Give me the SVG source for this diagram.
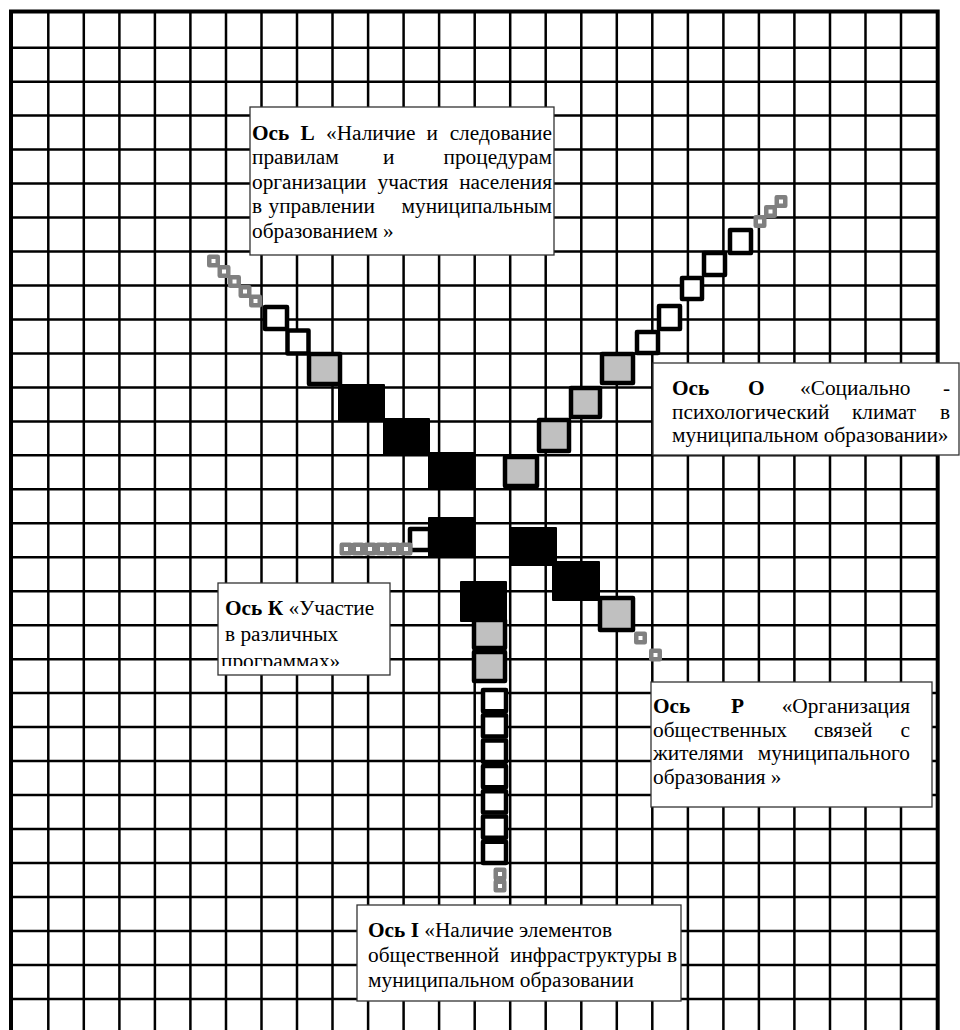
<svg xmlns="http://www.w3.org/2000/svg" width="960" height="1030" viewBox="0 0 960 1030">
<style>
.gl{stroke:#000;stroke-width:2.5;fill:none}
.bd{stroke:#000;stroke-width:4;fill:none}
.blk{fill:#000;stroke:#000;stroke-width:2;stroke-linejoin:round}
.gry{fill:#c0c0c0;stroke:#000;stroke-width:4.5;stroke-linejoin:round}
.wht{fill:#fff;stroke:#000;stroke-width:4.5;stroke-linejoin:round}
.sm{fill:#fff;stroke:#808080;stroke-width:4.5;stroke-linejoin:round}
.box{fill:#fff;stroke:#333;stroke-width:1.3}
text{font-family:"Liberation Serif","Times New Roman",serif;font-size:21.33px;fill:#000}
.b{font-weight:bold}
</style>
<defs>
<clipPath id="kclip"><rect x="219" y="584" width="170" height="82"/></clipPath>
</defs>
<rect width="960" height="1030" fill="#fff"/>
<g id="grid">
<path class="gl" d="M48.3 11V1030M83.8 11V1030M119.4 11V1030M154.9 11V1030M190.4 11V1030M226 11V1030M261.5 11V1030M297 11V1030M332.5 11V1030M368.1 11V1030M403.6 11V1030M439.1 11V1030M474.7 11V1030M510.2 11V1030M545.7 11V1030M581.3 11V1030M616.8 11V1030M652.3 11V1030M687.9 11V1030M723.4 11V1030M758.9 11V1030M794.4 11V1030M830 11V1030M865.5 11V1030M901 11V1030"/>
<path class="gl" d="M11 47.7H938M11 81.7H938M11 115.6H938M11 149.6H938M11 183.6H938M11 217.6H938M11 251.5H938M11 285.5H938M11 319.5H938M11 353.4H938M11 387.4H938M11 421.4H938M11 455.3H938M11 489.3H938M11 523.3H938M11 557.3H938M11 591.2H938M11 625.2H938M11 659.2H938M11 693.1H938M11 727.1H938M11 761.1H938M11 795.1H938M11 829H938M11 863H938M11 897H938M11 930.9H938M11 964.9H938M11 998.9H938"/>
<path class="bd" d="M11 1030V11.5H937.7V1030"/>
</g>
<g id="connectors">
<g id="axis-L">
<rect class="blk" x="339" y="385" width="45" height="36"/>
<rect class="blk" x="384" y="419" width="45" height="36"/>
<rect class="blk" x="429" y="453" width="45" height="36"/>
<rect class="gry" x="309" y="354" width="31" height="30"/>
<rect class="wht" x="287.5" y="330.5" width="21" height="23"/>
<rect class="wht" x="265" y="307" width="22" height="22"/>
<rect class="sm" x="251.25" y="296.75" width="8.5" height="8.5"/>
<rect class="sm" x="240.75" y="287.25" width="8.5" height="8.5"/>
<rect class="sm" x="230.25" y="277.25" width="8.5" height="8.5"/>
<rect class="sm" x="219.75" y="267.25" width="8.5" height="8.5"/>
<rect class="sm" x="209.25" y="256.75" width="8.5" height="8.5"/>
</g>
<g id="axis-O">
<rect class="gry" x="505" y="457" width="32" height="29"/>
<rect class="gry" x="539" y="420" width="30" height="31"/>
<rect class="gry" x="571" y="388" width="29" height="29"/>
<rect class="gry" x="602" y="354" width="31" height="29"/>
<rect class="wht" x="637" y="332" width="21" height="21"/>
<rect class="wht" x="659" y="306" width="21" height="23"/>
<rect class="wht" x="682" y="278" width="20" height="21"/>
<rect class="wht" x="704" y="253" width="21" height="22"/>
<rect class="wht" x="730" y="230" width="21" height="23"/>
<rect class="sm" x="755.75" y="217.25" width="8.5" height="8.5"/>
<rect class="sm" x="766.25" y="207.25" width="8.5" height="8.5"/>
<rect class="sm" x="776.75" y="197.25" width="8.5" height="8.5"/>
</g>
<g id="axis-K">
<rect class="blk" x="429" y="518" width="45" height="38"/>
<rect class="wht" x="410" y="529" width="20" height="21"/>
<rect class="sm" x="341.75" y="544.75" width="8.5" height="8.5"/>
<rect class="sm" x="353.75" y="544.75" width="8.5" height="8.5"/>
<rect class="sm" x="365.75" y="544.75" width="8.5" height="8.5"/>
<rect class="sm" x="377.75" y="544.75" width="8.5" height="8.5"/>
<rect class="sm" x="389.75" y="544.75" width="8.5" height="8.5"/>
<rect class="sm" x="401.75" y="544.75" width="8.5" height="8.5"/>
</g>
<g id="axis-P">
<rect class="blk" x="510" y="528" width="46" height="37"/>
<rect class="blk" x="553" y="562" width="46" height="38"/>
<rect class="gry" x="600" y="598" width="33" height="32"/>
<rect class="sm" x="636.25" y="633.75" width="8.5" height="8.5"/>
<rect class="sm" x="651.25" y="650.75" width="8.5" height="8.5"/>
</g>
<g id="axis-I">
<rect class="blk" x="461" y="582" width="45" height="39"/>
<rect class="gry" x="474" y="620" width="31" height="28"/>
<rect class="gry" x="474" y="652" width="31" height="29"/>
<rect class="wht" x="483" y="690" width="23" height="21.3"/>
<rect class="wht" x="483" y="715.3" width="23" height="21.3"/>
<rect class="wht" x="483" y="740.6" width="23" height="21.3"/>
<rect class="wht" x="483" y="765.9" width="23" height="21.3"/>
<rect class="wht" x="483" y="791.2" width="23" height="21.3"/>
<rect class="wht" x="483" y="816.5" width="23" height="21.3"/>
<rect class="wht" x="483" y="841.7" width="23" height="21.3"/>
<rect class="sm" x="495.75" y="869.75" width="8.5" height="8.5"/>
<rect class="sm" x="495.75" y="881.75" width="8.5" height="8.5"/>
</g>
</g>
<g id="label-L">
<rect class="box" x="250" y="107" width="304" height="148"/>
<text y="140"><tspan class="b" x="252">Ось</tspan><tspan class="b" x="300.5">L</tspan><tspan x="326">«Наличие</tspan><tspan x="426.5">и</tspan></text>
<text x="552" y="140" text-anchor="end">следование</text>
<text y="164"><tspan x="252">правилам</tspan><tspan x="383">и</tspan></text>
<text x="552" y="164" text-anchor="end">процедурам</text>
<text y="189"><tspan x="252">организации</tspan><tspan x="377.5">участия</tspan></text>
<text x="552" y="189" text-anchor="end">населения</text>
<text y="213"><tspan x="252">в</tspan><tspan x="268.5">управлении</tspan></text>
<text x="552" y="213" text-anchor="end">муниципальным</text>
<text x="252" y="238">образованием »</text>
</g>
<g id="label-O">
<rect class="box" x="653" y="363" width="306" height="92"/>
<text y="395"><tspan class="b" x="672">Ось</tspan><tspan class="b" x="748">О</tspan><tspan x="800">«Социально</tspan></text>
<text x="950" y="395" text-anchor="end">-</text>
<text y="418.5"><tspan x="672">психологический</tspan><tspan x="852">климат</tspan></text>
<text x="950" y="418.5" text-anchor="end">в</text>
<text x="672" y="442">муниципальном образовании»</text>
</g>
<g id="label-K">
<rect class="box" x="218" y="583" width="172" height="92"/>
<g clip-path="url(#kclip)">
<text x="225" y="615"><tspan class="b">Ось К</tspan> «Участие</text>
<text x="225" y="641">в различных</text>
<text x="221" y="668">программах»</text>
</g>
</g>
<g id="label-P">
<rect class="box" x="651" y="682" width="281" height="125"/>
<text y="713"><tspan class="b" x="653">Ось</tspan><tspan class="b" x="731">Р</tspan></text>
<text x="910" y="713" text-anchor="end">«Организация</text>
<text y="737"><tspan x="653">общественных</tspan><tspan x="814">связей</tspan></text>
<text x="910" y="737" text-anchor="end">с</text>
<text x="653" y="760">жителями</text>
<text x="910" y="760" text-anchor="end">муниципального</text>
<text x="653" y="784">образования »</text>
</g>
<g id="label-I">
<rect class="box" x="357" y="905" width="324" height="96"/>
<text x="368" y="937"><tspan class="b">Ось I</tspan> «Наличие элементов</text>
<text y="961.7"><tspan x="368">общественной</tspan><tspan x="510">инфраструктуры</tspan></text>
<text x="677" y="961.7" text-anchor="end">в</text>
<text x="368" y="986.5">муниципальном образовании</text>
</g>
</svg>
